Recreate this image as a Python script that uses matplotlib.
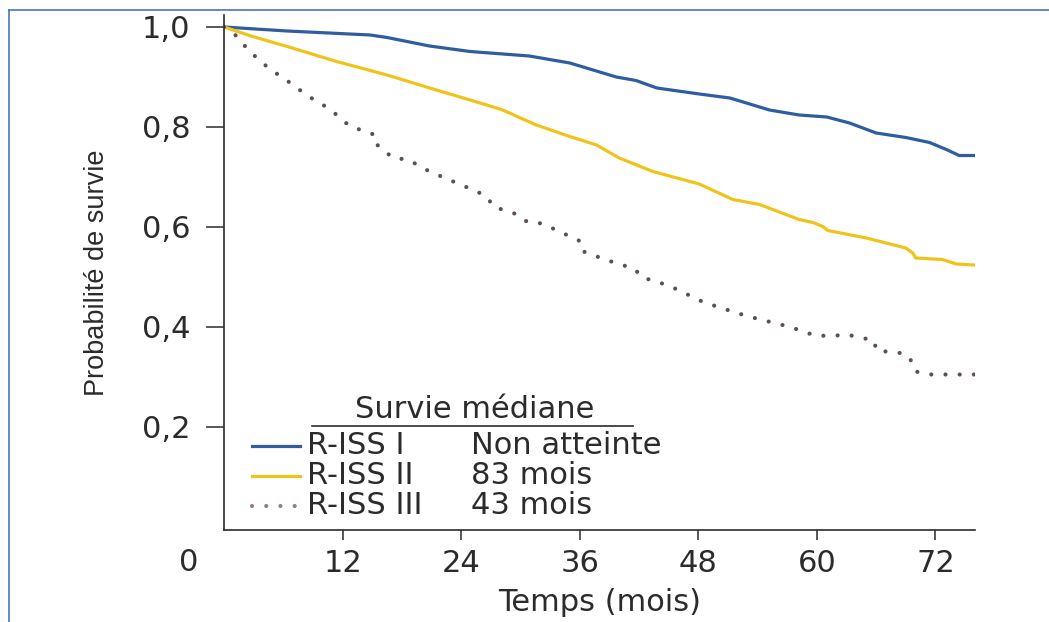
import matplotlib
matplotlib.use("Agg")
import matplotlib.pyplot as plt
from matplotlib.lines import Line2D

plt.rcParams["font.family"] = ["DejaVu Sans"]

# Kaplan-Meier survival by R-ISS stage (months, probability)
months_i = [0, 6.4, 14.8, 16.5, 20.8, 24.9, 30.9, 35, 39.7, 41.7, 43.8, 48.1,
            51.2, 55.2, 58.2, 61.0, 63.3, 66, 69, 71.4, 73.1, 74.4, 75.9]
surv_i = [1.0, 0.992, 0.984, 0.979, 0.962, 0.951, 0.942, 0.928, 0.900, 0.893,
          0.878, 0.866, 0.858, 0.834, 0.824, 0.820, 0.808, 0.788, 0.779, 0.769,
          0.755, 0.743, 0.743]

months_ii = [0, 2.9, 6.4, 11.4, 16.5, 21.5, 26.6, 28.2, 31.6, 35, 37.7, 40,
             43.4, 48.1, 51.5, 54.2, 58.2, 59.6, 60.6, 61.1, 65, 69, 69.7, 70,
             72.7, 74.1, 75.9]
surv_ii = [1.0, 0.981, 0.961, 0.931, 0.904, 0.874, 0.844, 0.834, 0.804, 0.781,
           0.764, 0.738, 0.711, 0.686, 0.655, 0.645, 0.615, 0.609, 0.601, 0.593,
           0.578, 0.558, 0.548, 0.538, 0.535, 0.526, 0.524]

months_iii = [0, 1.1, 2.6, 4.5, 6.5, 8.5, 10.7, 12.7, 15.3, 15.4, 17.1, 18.6,
              20.8, 23.2, 25.7, 26.7, 27.2, 29.7, 30.7, 32.2, 35.9, 36.1, 38.7,
              41.6, 42.2, 45, 48.6, 52.9, 57.3, 59.8, 61.5, 63, 65.8, 66, 68.9,
              69.7, 70, 71.4, 75.9]
surv_iii = [1.0, 0.985, 0.951, 0.918, 0.891, 0.862, 0.836, 0.802, 0.784, 0.766,
            0.738, 0.735, 0.711, 0.691, 0.670, 0.659, 0.641, 0.625, 0.610, 0.607,
            0.573, 0.553, 0.534, 0.516, 0.500, 0.483, 0.449, 0.422, 0.400, 0.383,
            0.382, 0.385, 0.373, 0.353, 0.347, 0.329, 0.311, 0.305, 0.305]

stages = ["R-ISS I", "R-ISS II", "R-ISS III"]
medians = ["Non atteinte", "83 mois", "43 mois"]
x_ticks = [12, 24, 36, 48, 60, 72]
y_ticks = [0.2, 0.4, 0.6, 0.8, 1.0]
y_tick_labels = ["0,2", "0,4", "0,6", "0,8", "1,0"]

BLUE = "#2f5d9f"
YELLOW = "#efc31a"
DOTS = "#5f5050"
INK = "#2b2b2b"
FRAME = "#4a74b8"

W, H = 1049, 622
fig = plt.figure(figsize=(W / 100, H / 100), dpi=100)
ax = fig.add_axes([224 / W, 1 - 530 / H, 751 / W, 515 / H])

# thin blue page frame on the top and left edges
fig.add_artist(Line2D([9 / W, 1], [1 - 10 / H, 1 - 10 / H], color=FRAME, lw=1.2))
fig.add_artist(Line2D([9 / W, 9 / W], [0, 1 - 10 / H], color=FRAME, lw=1.2))

ax.plot(months_i, surv_i, color=BLUE, lw=2.3, solid_joinstyle="round")
ax.plot(months_ii, surv_ii, color=YELLOW, lw=2.3, solid_joinstyle="round")
ax.plot(months_iii, surv_iii, color=DOTS, lw=3.0, dash_capstyle="round",
        linestyle=(0, (0.01, 3.4)))

ax.set_xlim(0, 76)
ax.set_ylim(-0.006, 1.024)
for side in ("top", "right"):
    ax.spines[side].set_visible(False)
for side in ("left", "bottom"):
    ax.spines[side].set_color(INK)
    ax.spines[side].set_linewidth(1.2)

ax.set_xticks(x_ticks)
ax.set_yticks(y_ticks)
ax.set_yticklabels(y_tick_labels)
ax.tick_params(axis="x", length=7, width=1.1, pad=7, labelsize=22,
               colors=INK)
ax.tick_params(axis="y", length=13, width=1.1, pad=11, labelsize=22,
               colors=INK)

ax.text(-0.047, -0.064, "0", transform=ax.transAxes, ha="center",
        va="center", fontsize=22, color=INK)

ax.set_xlabel("Temps (mois)", fontsize=22, color=INK, labelpad=7)
ax.set_ylabel("Probabilité de survie", fontsize=19.5, color=INK,
              family=["Liberation Sans", "DejaVu Sans"])
ax.yaxis.set_label_coords(-0.169, 0.5)
ax.yaxis.label.set_va("center")


# legend table: header, underline, then sample + stage + median per row
def ax_xy(px, py):
    return (px - 224) / 751, (530 - py) / 515


hx, hy = ax_xy(475, 410)
ax.text(hx, hy, "Survie médiane", transform=ax.transAxes, ha="center",
        va="center", fontsize=22, color=INK)
ux0, uy = ax_xy(312, 426)
ux1, _ = ax_xy(633, 426)
ax.plot([ux0, ux1], [uy, uy], transform=ax.transAxes, color=INK, lw=1.2)

row_y = [446, 476, 506]
styles = [dict(color=BLUE, lw=2.3),
          dict(color=YELLOW, lw=2.3),
          dict(color="#9a7b78", lw=3.0, dash_capstyle="round",
               linestyle=(0, (0.01, 3.4)))]
for stage, median, py, st in zip(stages, medians, row_y, styles):
    sx0, sy = ax_xy(252, py)
    sx1, _ = ax_xy(300, py)
    ax.plot([sx0, sx1], [sy, sy], transform=ax.transAxes, **st)
    tx, _ = ax_xy(307, py)
    ax.text(tx, sy, stage, transform=ax.transAxes, ha="left", va="center",
            fontsize=22, color=INK)
    mx, _ = ax_xy(471, py)
    ax.text(mx, sy, median, transform=ax.transAxes, ha="left", va="center",
            fontsize=22, color=INK)

fig.savefig("out.png", dpi=100, facecolor="white")
